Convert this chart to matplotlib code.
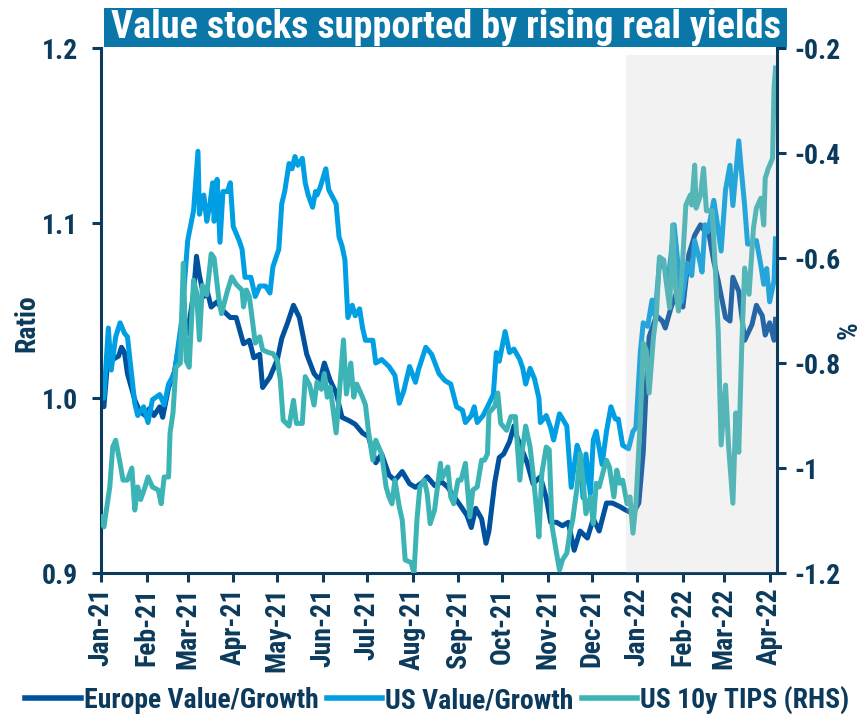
import numpy as np
import pandas as pd
import matplotlib
matplotlib.use("Agg")
import matplotlib.pyplot as plt
import matplotlib.dates as mdates
from matplotlib.patches import Rectangle
from matplotlib.lines import Line2D

# ---------------- data ----------------
base_date = "2021-01-01"

europe_days = [0, 2, 5, 8, 12, 14, 16, 18, 23, 26, 30, 33, 36, 40, 42, 46, 50, 54, 57, 59, 63, 65, 67, 70, 72, 75,
               79, 83, 88, 92, 97, 101, 104, 108, 110, 115, 120, 123, 127, 131, 135, 140, 145, 149, 152, 156, 160,
               164, 169, 173, 178, 182, 187, 191, 196, 200, 205, 210, 214, 219, 222, 227, 232, 236, 240, 245, 249,
               252, 255, 259, 262, 264, 268, 271, 274, 278, 281, 283, 290, 294, 299, 303, 306, 310, 314, 318, 322,
               326, 331, 335, 339, 344, 348, 353, 357, 362, 366, 369, 371, 373, 378, 382, 384, 388, 393, 396, 400,
               404, 408, 411, 413, 417, 420, 425, 428, 430, 434, 438, 443, 446, 450, 452, 455, 458, 459]
europe_vals = [1.000, 0.995, 1.026, 1.022, 1.024, 1.029, 1.026, 1.014, 0.999, 0.993, 0.990, 0.994, 0.990, 0.995,
               0.989, 1.006, 1.015, 1.035, 1.045, 1.037, 1.060, 1.081, 1.070, 1.058, 1.062, 1.052, 1.055, 1.050,
               1.046, 1.046, 1.031, 1.033, 1.023, 1.025, 1.006, 1.012, 1.022, 1.034, 1.043, 1.053, 1.046, 1.025,
               1.014, 1.010, 1.020, 1.010, 1.003, 0.989, 0.987, 0.985, 0.980, 0.978, 0.963, 0.968, 0.956, 0.953,
               0.958, 0.951, 0.949, 0.952, 0.955, 0.950, 0.952, 0.949, 0.944, 0.938, 0.933, 0.926, 0.937, 0.931,
               0.917, 0.924, 0.952, 0.966, 0.968, 0.975, 0.984, 0.978, 0.963, 0.951, 0.955, 0.943, 0.929, 0.929,
               0.927, 0.929, 0.913, 0.924, 0.920, 0.931, 0.924, 0.940, 0.940, 0.938, 0.936, 0.934, 0.940, 0.969,
               1.006, 1.035, 1.047, 1.044, 1.040, 1.052, 1.063, 1.052, 1.082, 1.093, 1.099, 1.095, 1.097, 1.078,
               1.067, 1.046, 1.044, 1.069, 1.061, 1.033, 1.042, 1.053, 1.047, 1.036, 1.043, 1.033, 1.045]

us_days = [0, 2, 5, 7, 10, 13, 16, 18, 21, 23, 25, 29, 32, 35, 40, 43, 46, 50, 55, 59, 63, 66, 67, 70, 72, 74, 76,
           77, 79, 81, 83, 86, 88, 90, 94, 96, 98, 102, 105, 108, 112, 115, 117, 121, 123, 125, 128, 130, 132, 134,
           137, 139, 141, 144, 146, 147, 149, 153, 155, 160, 162, 164, 166, 168, 171, 173, 176, 178, 180, 185, 187,
           191, 196, 200, 203, 206, 210, 214, 216, 221, 225, 230, 234, 238, 242, 246, 248, 252, 254, 256, 260, 263,
           267, 269, 271, 275, 278, 281, 285, 287, 289, 292, 295, 298, 299, 303, 306, 308, 312, 317, 320, 324, 326,
           328, 330, 333, 335, 337, 341, 344, 347, 350, 352, 355, 359, 362, 364, 367, 369, 372, 375, 377, 380, 384,
           386, 390, 392, 395, 399, 402, 404, 407, 409, 411, 413, 417, 419, 422, 425, 428, 430, 434, 436, 438, 440,
           443, 446, 449, 451, 453, 455, 458, 459]
us_vals = [1.000, 1.000, 1.040, 1.016, 1.035, 1.043, 1.037, 1.035, 1.012, 0.997, 0.990, 0.995, 0.986, 0.999, 1.002,
           0.996, 1.008, 1.014, 1.045, 1.090, 1.107, 1.141, 1.105, 1.116, 1.101, 1.110, 1.123, 1.101, 1.125, 1.089,
           1.118, 1.118, 1.123, 1.098, 1.090, 1.085, 1.069, 1.069, 1.058, 1.064, 1.064, 1.060, 1.075, 1.085, 1.111,
           1.118, 1.134, 1.131, 1.138, 1.133, 1.137, 1.123, 1.116, 1.109, 1.118, 1.116, 1.120, 1.131, 1.119, 1.111,
           1.092, 1.087, 1.079, 1.046, 1.053, 1.047, 1.051, 1.040, 1.033, 1.033, 1.020, 1.022, 1.018, 1.013, 0.997,
           1.004, 1.018, 1.009, 1.016, 1.029, 1.025, 1.014, 1.010, 1.008, 0.995, 0.993, 0.986, 0.990, 0.995, 0.986,
           0.990, 0.995, 1.002, 1.026, 1.021, 1.038, 1.026, 1.028, 1.022, 1.017, 1.008, 1.017, 1.011, 1.000, 0.986,
           0.990, 0.983, 0.976, 0.991, 0.984, 0.949, 0.973, 0.968, 0.943, 0.968, 0.945, 0.976, 0.981, 0.962, 0.981,
           0.995, 0.988, 0.988, 0.973, 0.971, 0.981, 0.983, 1.026, 1.043, 1.041, 1.056, 1.047, 1.077, 1.074, 1.067,
           1.099, 1.082, 1.055, 1.077, 1.070, 1.090, 1.080, 1.072, 1.099, 1.095, 1.113, 1.102, 1.084, 1.119, 1.133,
           1.110, 1.147, 1.128, 1.110, 1.088, 1.088, 1.090, 1.076, 1.065, 1.074, 1.055, 1.067, 1.091]

tips_days = [0, 2, 6, 8, 10, 13, 15, 18, 21, 23, 25, 27, 30, 32, 35, 39, 41, 43, 46, 47, 49, 51, 54, 56, 58, 60, 63,
             65, 67, 69, 72, 75, 77, 80, 82, 86, 89, 92, 96, 97, 99, 101, 103, 105, 108, 110, 114, 117, 120, 122,
             124, 128, 131, 133, 137, 139, 142, 145, 147, 150, 152, 154, 156, 160, 162, 165, 167, 170, 172, 174, 178,
             180, 182, 185, 187, 189, 191, 194, 196, 198, 200, 203, 205, 207, 211, 213, 215, 217, 220, 222, 224, 227,
             229, 231, 232, 236, 238, 240, 243, 245, 248, 251, 253, 256, 259, 261, 263, 264, 268, 270, 272, 276, 279,
             282, 285, 287, 289, 292, 294, 296, 298, 300, 303, 305, 307, 310, 312, 314, 317, 319, 321, 324, 326, 328,
             330, 333, 335, 337, 339, 342, 344, 346, 349, 351, 353, 355, 358, 360, 362, 364, 367, 369, 371, 373, 376,
             378, 380, 383, 384, 387, 389, 391, 393, 395, 398, 401, 402, 404, 405, 408, 410, 412, 416, 418, 420, 422,
             425, 427, 430, 432, 434, 436, 438, 441, 444, 446, 449, 451, 452, 454, 457, 458, 459]
tips_vals = [-1.093, -1.112, -1.036, -0.960, -0.947, -0.991, -1.023, -1.023, -1.000, -1.080, -1.036, -1.060, -1.036,
             -1.017, -1.036, -1.042, -1.068, -1.017, -1.017, -0.933, -0.895, -0.808, -0.800, -0.610, -0.796, -0.808,
             -0.642, -0.665, -0.756, -0.652, -0.670, -0.592, -0.600, -0.674, -0.706, -0.663, -0.636, -0.650, -0.661,
             -0.693, -0.661, -0.674, -0.718, -0.762, -0.750, -0.775, -0.780, -0.782, -0.795, -0.832, -0.909, -0.920,
             -0.871, -0.915, -0.915, -0.826, -0.842, -0.880, -0.836, -0.850, -0.820, -0.865, -0.846, -0.933, -0.865,
             -0.756, -0.859, -0.800, -0.865, -0.840, -0.865, -0.880, -0.930, -0.985, -0.947, -0.960, -0.973, -1.036,
             -1.055, -1.068, -1.023, -1.074, -1.099, -1.175, -1.180, -1.200, -1.099, -1.036, -1.023, -1.049, -1.106,
             -1.080, -1.036, -0.991, -1.020, -0.998, -1.055, -1.068, -1.023, -1.023, -0.991, -1.093, -1.042, -1.036,
             -0.985, -0.985, -0.973, -0.895, -0.882, -0.857, -0.915, -0.928, -0.902, -0.902, -1.023, -0.960, -0.920,
             -0.960, -1.010, -1.068, -1.131, -1.010, -0.960, -0.965, -1.112, -1.162, -1.194, -1.175, -1.162, -1.124,
             -1.099, -1.036, -0.972, -1.023, -1.087, -1.055, -1.106, -1.029, -1.036, -1.004, -0.985, -0.998, -1.055,
             -1.004, -1.029, -1.023, -1.068, -1.055, -1.124, -1.068, -0.909, -0.762, -0.775, -0.857, -0.749, -0.706,
             -0.598, -0.604, -0.632, -0.695, -0.537, -0.657, -0.701, -0.644, -0.499, -0.480, -0.499, -0.423, -0.505,
             -0.480, -0.429, -0.510, -0.510, -0.619, -0.739, -0.956, -0.842, -0.956, -1.067, -0.895, -0.970, -0.771,
             -0.619, -0.669, -0.543, -0.505, -0.486, -0.537, -0.448, -0.430, -0.410, -0.276, -0.238]

series_names = ["Europe Value/Growth", "US Value/Growth", "US 10y TIPS (RHS)"]
left_ticks = [0.9, 1.0, 1.1, 1.2]
left_tick_labels = ["0.9", "1.0", "1.1", "1.2"]
right_ticks = [-1.2, -1.0, -0.8, -0.6, -0.4, -0.2]
right_tick_labels = ["-1.2", "-1", "-0.8", "-0.6", "-0.4", "-0.2"]
shade_start = "2021-12-24"
x_start, x_end = "2021-01-01", "2022-04-06"
title_text = "Value stocks supported by rising real yields"
left_label, right_label = "Ratio", "%"

# ---------------- style ----------------
FONT = ["Roboto Condensed", "DejaVu Sans"]
plt.rcParams["font.family"] = FONT
plt.rcParams["font.weight"] = "bold"

NAVY = "#0b3a5c"
C_EU = "#00519e"
C_US = "#009fe3"
C_TIPS = "#3cb4b6"
LW = 3.6

def to_dates(days):
    return pd.Timestamp(base_date) + pd.to_timedelta(np.asarray(days, dtype=float), unit="D")

fig = plt.figure(figsize=(8.66, 7.19), dpi=100)
ax = fig.add_axes([0.1166, 0.203, 0.7806, 0.7302])
ax2 = ax.twinx()

ax.plot(to_dates(europe_days), europe_vals, color=C_EU, lw=LW, solid_joinstyle="round")
ax.plot(to_dates(us_days), us_vals, color=C_US, lw=LW, solid_joinstyle="round")
ax2.plot(to_dates(tips_days), tips_vals, color=C_TIPS, lw=LW, solid_joinstyle="round")

ax2.axvspan(pd.Timestamp(shade_start), pd.Timestamp(x_end), ymin=0, ymax=0.987,
            color="#bfbfbf", alpha=0.2, lw=0, zorder=2.2)

ax.set_xlim(pd.Timestamp(x_start), pd.Timestamp(x_end))
ax.set_ylim(0.9, 1.2)
ax2.set_ylim(-1.2, -0.2)

ax.set_yticks(left_ticks)
ax.set_yticklabels(left_tick_labels)
ax2.set_yticks(right_ticks)
ax2.set_yticklabels(right_tick_labels)

ax.xaxis.set_major_locator(mdates.MonthLocator())
ax.xaxis.set_major_formatter(mdates.DateFormatter("%b-%y"))

for a in (ax, ax2):
    for s in a.spines.values():
        s.set_color(NAVY)
        s.set_linewidth(2.2)
    a.spines["top"].set_visible(False)
    a.tick_params(colors=NAVY, width=2.2, length=6.5, labelsize=20, direction="out")
ax.spines["right"].set_visible(False)
ax2.spines["left"].set_visible(False)
ax2.spines["bottom"].set_visible(False)
ax.tick_params(axis="x", labelrotation=90, pad=4)
ax.tick_params(axis="y", pad=10)
ax2.tick_params(axis="y", pad=6)
for lab in ax.get_xticklabels() + ax.get_yticklabels() + ax2.get_yticklabels():
    lab.set_fontweight("bold")

# axis titles
fig.text(0.031, 0.551, left_label, fontsize=20, fontweight="bold", color=NAVY,
         rotation=90, ha="center", va="center")
fig.text(0.981, 0.541, right_label, fontsize=20, fontweight="bold", color=NAVY,
         rotation=90, ha="center", va="center")

# title box
fig.patches.append(Rectangle((0.120, 0.935), 0.789, 0.054, transform=fig.transFigure,
                             facecolor="#0b77a8", edgecolor="none"))
fig.text(0.515, 0.962, title_text, color="white", fontsize=27.5, fontweight="bold",
         ha="center", va="center")

handles = [Line2D([], [], color=c, lw=4) for c in (C_EU, C_US, C_TIPS)]
fig.legend(handles, series_names, loc="center", bbox_to_anchor=(0.505, 0.026), ncol=3,
           frameon=False, handlelength=2.0, handletextpad=0.1, columnspacing=0.3,
           labelcolor=NAVY, prop={"family": FONT, "weight": "bold", "size": 20})

fig.savefig("out.png", dpi=100)
